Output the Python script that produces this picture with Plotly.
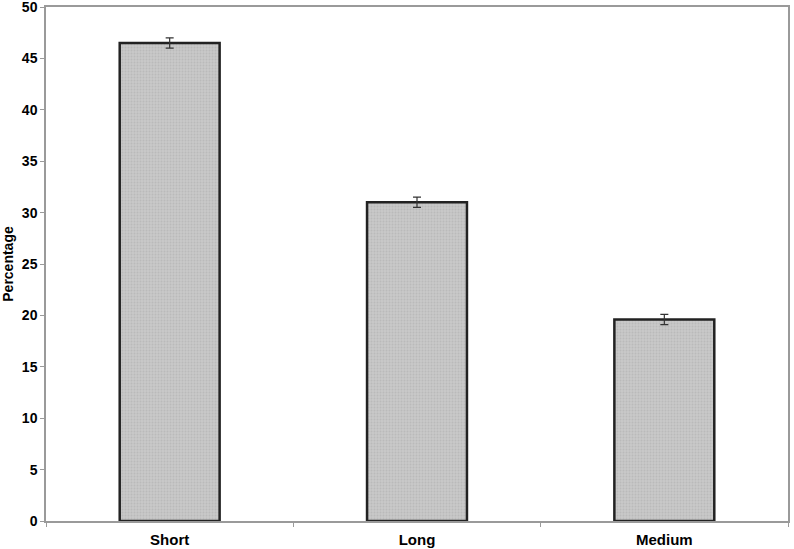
import plotly.graph_objects as go

# dados
categorias = ["Short", "Long", "Medium"]
percentagens = [46.5, 31.0, 19.6]
erros = [0.5, 0.5, 0.5]
ticks_y = [0, 5, 10, 15, 20, 25, 30, 35, 40, 45, 50]

fig = go.Figure()
fig.add_trace(
    go.Bar(
        x=categorias,
        y=percentagens,
        error_y=dict(type="data", array=erros, color="#333333", thickness=1.2, width=4),
        marker=dict(
            color="#c4c4c4",
            line=dict(color="#222222", width=2.5),
            pattern=dict(shape=".", fgcolor="#acacac", bgcolor="#c8c8c8", size=3, solidity=0.3),
        ),
        showlegend=False,
    )
)

fig.update_layout(
    width=794, height=549,
    margin=dict(l=46, r=6, t=7, b=28),
    plot_bgcolor="white", paper_bgcolor="white",
    bargap=0.596,
    font=dict(family="Liberation Sans, Arial", size=14, color="black"),
)

fig.update_xaxes(
    automargin=False,
    showline=True, linecolor="#9a9a9a", linewidth=1.5, mirror=True,
    ticks="outside", tickson="boundaries", ticklen=4, tickcolor="#9a9a9a",
    tickfont=dict(size=15, family="Liberation Sans, Arial", weight="bold"),
    ticklabelstandoff=4,
    showgrid=False,
)
fig.update_yaxes(
    automargin=False,
    range=[0, 50], tickvals=ticks_y,
    showline=True, linecolor="#9a9a9a", linewidth=1.5, mirror=True,
    ticks="outside", ticklen=4, tickcolor="#9a9a9a",
    tickfont=dict(size=14, family="Liberation Sans, Arial", weight="bold"),
    ticklabeloverflow="allow",
    showgrid=False, zeroline=False,
    title=dict(text="Percentage", standoff=6,
               font=dict(size=14, family="Liberation Sans, Arial", weight="bold")),
)

# tira a margem padrão de 8px do body para o gráfico ocupar a janela toda
fig.write_html(
    "out.html",
    config={"displayModeBar": False},
    post_script="document.body.style.margin='0';document.body.style.overflow='hidden';",
)
